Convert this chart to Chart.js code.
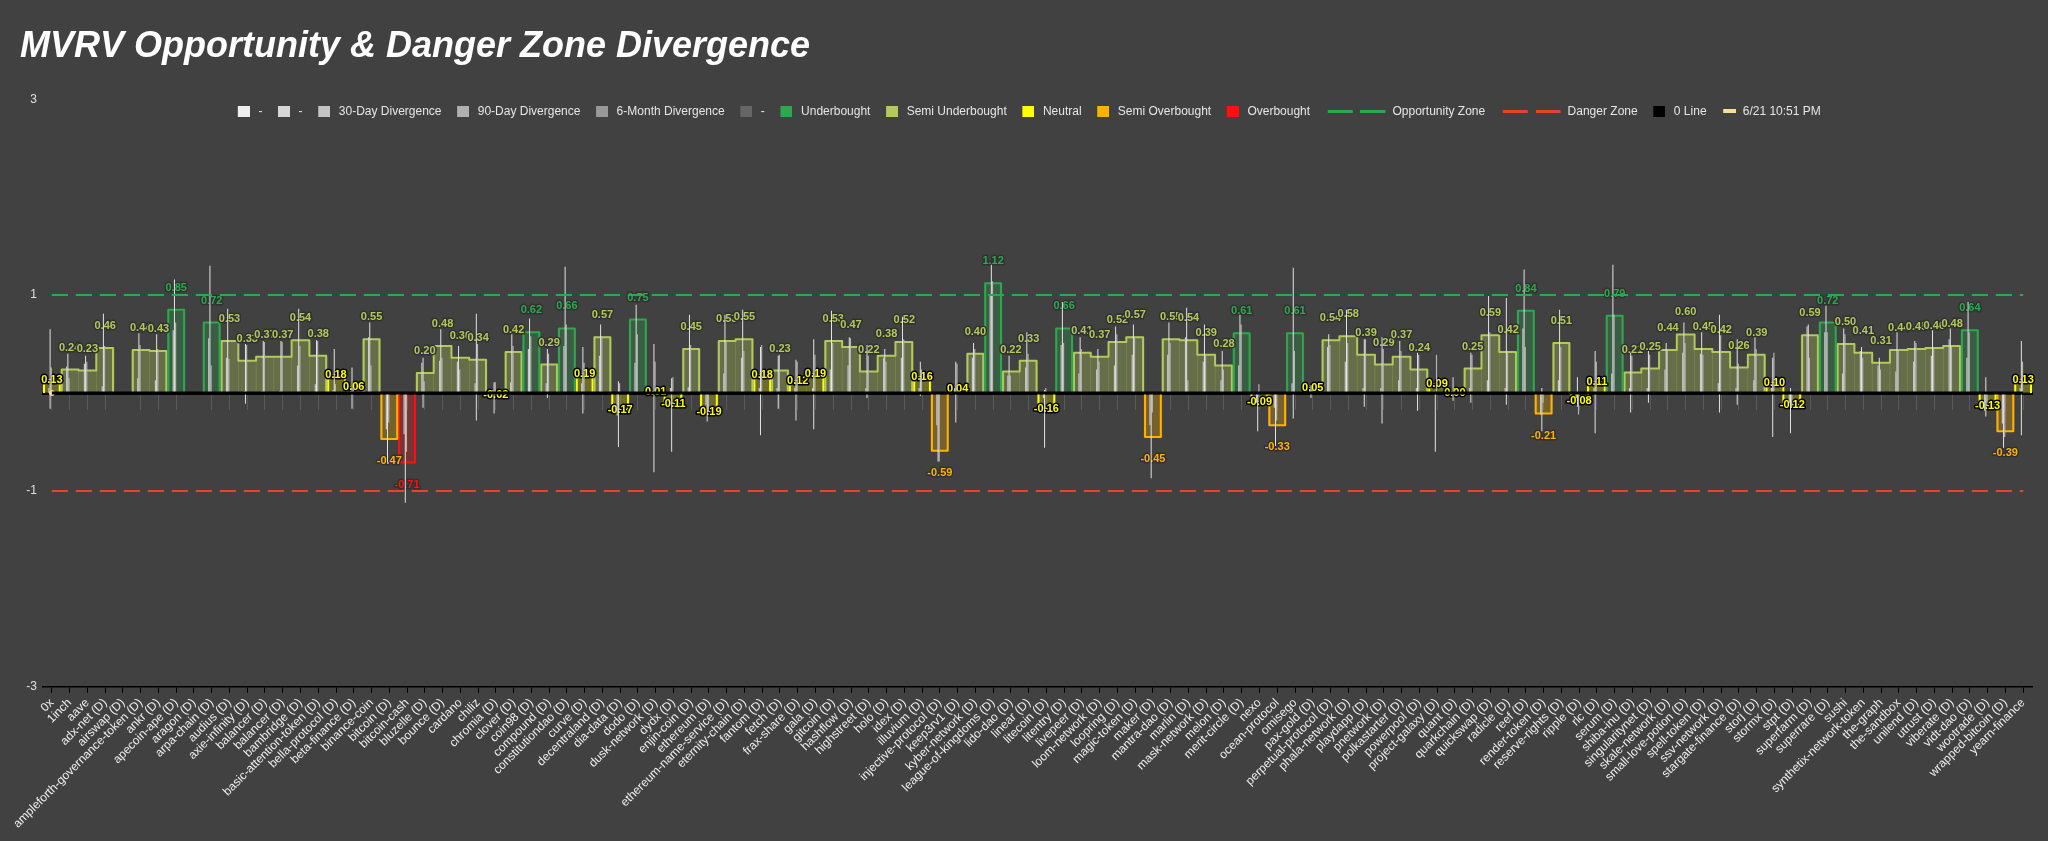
<!DOCTYPE html>
<html>
<head>
<meta charset="utf-8">
<title>MVRV Opportunity & Danger Zone Divergence</title>
<script src="https://cdn.jsdelivr.net/npm/chart.js@4.4.1/dist/chart.umd.min.js"></script>
<style>
    html, body { margin: 0; padding: 0; background: #414141; }
    #wrap { position: relative; width: 2048px; height: 841px; }
</style>
</head>
<body>
<div id="wrap"><canvas id="mvrvChart"></canvas></div>
<script>
const categories = [
    '0x', '1inch', 'aave', 'adx-net (D)', 'airswap (D)', 'ampleforth-governance-token (D)', 'ankr (D)', 'apecoin-ape (D)', 'aragon (D)', 'arpa-chain (D)',
    'audius (D)', 'axie-infinity (D)', 'balancer (D)', 'balancer (D)', 'bambridge (D)', 'basic-attention-token (D)', 'bella-protocol (D)', 'beta-finance (D)', 'binance-coin', 'bitcoin (D)',
    'bitcoin-cash', 'bluzelle (D)', 'bounce (D)', 'cardano', 'chiliz', 'chromia (D)', 'clover (D)', 'coin98 (D)', 'compound (D)', 'constitutiondao (D)',
    'curve (D)', 'decentraland (D)', 'dia-data (D)', 'dodo (D)', 'dusk-network (D)', 'dydx (D)', 'enjin-coin (D)', 'ethereum (D)', 'ethereum-name-service (D)', 'eternity-chain (D)',
    'fantom (D)', 'fetch (D)', 'frax-share (D)', 'gala (D)', 'gitcoin (D)', 'hashflow (D)', 'highstreet (D)', 'holo (D)', 'idex (D)', 'illuvium (D)',
    'injective-protocol (D)', 'keep3rv1 (D)', 'kyber-network (D)', 'league-of-kingdoms (D)', 'lido-dao (D)', 'linear (D)', 'litecoin (D)', 'litentry (D)', 'livepeer (D)', 'loom-network (D)',
    'loopring (D)', 'magic-token (D)', 'maker (D)', 'mantra-dao (D)', 'marlin (D)', 'mask-network (D)', 'melon (D)', 'merit-circle (D)', 'nexo', 'ocean-protocol',
    'omisego', 'pax-gold (D)', 'perpetual-protocol (D)', 'phala-network (D)', 'playdapp (D)', 'pnetwork (D)', 'polkastarter (D)', 'powerpool (D)', 'project-galaxy (D)', 'quant (D)',
    'quarkchain (D)', 'quickswap (D)', 'radicle (D)', 'reef (D)', 'render-token (D)', 'reserve-rights (D)', 'ripple (D)', 'rlc (D)', 'serum (D)', 'shiba-inu (D)',
    'singularitynet (D)', 'skale-network (D)', 'small-love-potion (D)', 'spell-token (D)', 'ssv-network (D)', 'stargate-finance (D)', 'storj (D)', 'stormx (D)', 'stpt (D)', 'superfarm (D)',
    'superrare (D)', 'sushi', 'synthetix-network-token', 'the-graph', 'the-sandbox', 'unilend (D)', 'utrust (D)', 'viberate (D)', 'vidt-dao (D)', 'wootrade (D)',
    'wrapped-bitcoin (D)', 'yearn-finance'
];

// current divergence (coloured zone bars)
const divergence = [
    0.13, 0.24, 0.23, 0.46, null, 0.44, 0.43, 0.85, null, 0.72,
    0.53, 0.33, 0.37, 0.37, 0.54, 0.38, 0.18, 0.06, 0.55, -0.47,
    -0.71, 0.204, 0.48, 0.36, 0.34, -0.02, 0.42, 0.62, 0.29, 0.66,
    0.19, 0.57, -0.17, 0.75, 0.01, -0.11, 0.45, -0.19, 0.53, 0.55,
    0.18, 0.23, 0.12, 0.19, 0.53, 0.47, 0.22, 0.38, 0.52, 0.16,
    -0.59, 0.04, 0.40, 1.12, 0.22, 0.33, -0.16, 0.66, 0.41, 0.37,
    0.52, 0.57, -0.45, 0.55, 0.54, 0.39, 0.28, 0.61, -0.09, -0.33,
    0.61, 0.05, 0.54, 0.58, 0.39, 0.29, 0.37, 0.24, 0.09, 0.00,
    0.25, 0.59, 0.42, 0.84, -0.21, 0.51, -0.08, 0.11, 0.79, 0.21,
    0.25, 0.44, 0.598, 0.45, 0.42, 0.26, 0.39, 0.10, -0.12, 0.59,
    0.72, 0.50, 0.41, 0.31, 0.44, 0.45, 0.46, 0.48, 0.64, -0.13,
    -0.39, 0.13
];

// white range bars (low / high)
const rangeLow = [
    -0.16, 0, 0, 0, null, 0, 0, 0, null, 0,
    0, -0.11, 0, 0, 0, 0, 0, -0.16, 0, -0.71,
    -1.12, -0.15, 0, 0, -0.28, -0.21, 0, 0, -0.05, 0,
    -0.21, 0, -0.55, 0, -0.81, -0.60, 0, -0.29, 0, 0,
    -0.43, -0.16, -0.28, -0.37, 0, 0, -0.05, 0, 0, -0.03,
    -0.70, -0.30, 0, 0, 0, 0, -0.56, 0, 0, 0,
    0, 0, -0.87, 0, 0, 0, 0, 0, -0.39, -0.54,
    -0.26, -0.05, 0, 0, -0.14, -0.31, 0, -0.18, -0.60, -0.08,
    -0.10, 0, -0.12, 0, -0.39, 0, -0.14, -0.41, 0, -0.20,
    -0.10, 0, 0, 0, -0.20, -0.12, 0, -0.45, -0.41, 0,
    0, 0, 0, 0, 0, 0, 0, 0, 0, -0.24,
    -0.56, -0.43
];
const rangeHigh = [
    0.65, 0.40, 0.38, 0.81, null, 0.61, 0.60, 1.16, null, 1.30,
    0.86, 0.50, 0.53, 0.53, 0.86, 0.54, 0.45, 0.26, 0.72, 0,
    0, 0.36, 0.65, 0.48, 0.81, 0.11, 0.60, 0.76, 0.45, 1.29,
    0.47, 0.70, 0.12, 0.90, 0.50, 0.15, 0.80, 0, 0.80, 0.85,
    0.47, 0.38, 0.34, 0.55, 0.84, 0.57, 0.49, 0.45, 0.78, 0.32,
    0, 0.32, 0.51, 1.31, 0.38, 0.62, 0.03, 0.93, 0.57, 0.45,
    0.68, 0.70, 0, 0.72, 0.87, 0.70, 0.43, 0.80, 0, 0,
    1.28, 0.08, 0.60, 0.85, 0.55, 0.57, 0.53, 0.41, 0, 0.16,
    0.41, 0.99, 0.97, 1.26, 0.05, 0.85, 0.16, 0.43, 1.31, 0.41,
    0.43, 0.51, 0.72, 0.62, 0.80, 0.55, 0.57, 0.36, 0.05, 0.70,
    0.89, 0.66, 0.47, 0.36, 0.62, 0.53, 0.64, 0.66, 0.93, 0.16,
    0, 0.53
];
const divergence30 = [
    0.05, 0.27, 0.30, 0.07, null, 0.15, 0.13, 0.64, null, 0.56,
    0.36, 0.02, 0.02, 0.02, 0.28, 0.09, 0.03, 0.02, 0.57, -0.37,
    -0.42, 0.31, 0.33, 0.32, 0.10, 0.03, 0.11, 0.45, 0.10, 0.48,
    0.10, 0.38, -0.23, 0.31, 0.02, 0.05, 0.06, -0.12, 0.20, 0.36,
    0.05, 0.05, 0.05, 0.05, 0.24, 0.28, 0.05, 0.36, 0.36, 0.05,
    -0.33, 0.05, 0.36, 1.00, 0.18, 0.26, -0.05, 0.49, 0.20, 0.24,
    0.28, 0.39, -0.33, 0.39, 0.57, 0.32, 0.13, 0.28, -0.10, -0.15,
    0.10, 0.02, 0.47, 0.32, 0.05, 0.05, 0.13, 0.05, 0.02, 0.02,
    0.05, 0.13, 0.05, 0.66, -0.22, 0.13, -0.05, 0.05, 0.20, 0.05,
    0.05, 0.24, 0.41, 0.40, 0.10, 0.05, 0.13, 0.05, -0.10, 0.68,
    0.62, 0.20, 0.43, 0.28, 0.22, 0.32, 0.38, 0.55, 0.36, -0.18,
    -0.31, 0.05
];
const divergence90 = [
    0.26, 0.15, 0.32, 0.48, null, 0.49, 0.45, 0.72, null, 0.28,
    0.35, 0.49, 0.52, 0.52, 0.48, 0.53, 0.09, 0.05, 0.28, -0.30,
    -0.60, 0.12, 0.36, 0.24, 0.50, 0.11, 0.48, 0.58, 0.40, 0.70,
    0.31, 0.58, 0.10, 0.60, 0.32, 0.16, 0.49, -0.19, 0.53, 0.43,
    0.49, 0.39, 0.32, 0.39, 0.51, 0.56, 0.38, 0.32, 0.55, 0.24,
    -0.70, 0.30, 0.45, 1.14, 0.18, 0.40, 0.05, 0.51, 0.45, 0.32,
    0.60, 0.57, -0.20, 0.51, 0.13, 0.39, 0.24, 0.70, 0.09, -0.28,
    0.43, 0.04, 0.49, 0.51, 0.55, 0.45, 0.43, 0.39, 0.39, 0.05,
    0.39, 0.62, 0.41, 0.47, -0.10, 0.47, -0.22, 0.32, 0.80, 0.38,
    0.39, 0.45, 0.51, 0.39, 0.59, 0.30, 0.45, 0.41, -0.14, 0.36,
    0.62, 0.60, 0.36, 0.24, 0.43, 0.51, 0.45, 0.47, 0.62, -0.10,
    -0.45, 0.32
];

const yTickValues = [-3, -1, 1, 3];
const opportunityLevel = 1;
const dangerLevel = -1;
const zeroLevel = 0;
const snapshotLabel = '6/21 10:51 PM';

const zones = [
    { key: 'under', label: 'Underbought', color: '#2ea84f', fill: 'rgba(46,168,79,0.28)' },
    { key: 'semiUnder', label: 'Semi Underbought', color: '#b3c95b', fill: 'rgba(179,201,91,0.32)' },
    { key: 'neutral', label: 'Neutral', color: '#ffff00', fill: 'rgba(200,200,0,0.32)' },
    { key: 'semiOver', label: 'Semi Overbought', color: '#ffb300', fill: 'rgba(255,179,0,0.28)' },
    { key: 'over', label: 'Overbought', color: '#ff1010', fill: 'rgba(255,16,16,0.3)' }
];

function zoneOf(v) {
    if (v > 0.6) return 'under';
    if (v >= 0.2) return 'semiUnder';
    if (v >= -0.2) return 'neutral';
    if (v > -0.6) return 'semiOver';
    return 'over';
}

const font = '"Liberation Sans", Arial, Helvetica, sans-serif';
Chart.defaults.font.family = font;
Chart.defaults.color = '#e6e6e6';

// small legend icons
function boxIcon(color) {
    const c = document.createElement('canvas');
    c.width = 16; c.height = 11;
    const g = c.getContext('2d');
    g.fillStyle = color;
    g.fillRect(4, 0, 12, 11);
    return c;
}
function lineIcon(color, lead) {
    // lead: first line of a pair, pushed right a little
    const c = document.createElement('canvas');
    c.width = lead ? 48 : 31; c.height = 3;
    const g = c.getContext('2d');
    g.fillStyle = color;
    g.fillRect(lead ? 22 : 0, 0, 25, 3);
    return c;
}
function barIcon(color) {
    const c = document.createElement('canvas');
    c.width = 20; c.height = 4;
    const g = c.getContext('2d');
    g.fillStyle = color;
    g.fillRect(7, 0, 13, 4);
    return c;
}

const first = categories[0];
const last = categories[categories.length - 1];

const datasets = [];
const legendIcons = [];

datasets.push({
    label: '-', xAxisID: 'xThin', order: 2.1,
    data: rangeLow.map((lo, i) => lo === null ? null : [lo, rangeHigh[i]]),
    backgroundColor: '#ececec', categoryPercentage: 0.4, barPercentage: 0.8
});
legendIcons.push(boxIcon('#eeeeee'));

datasets.push({ label: '-', data: [], backgroundColor: '#d6d6d6', grouped: false, order: 2 });
legendIcons.push(boxIcon('#d6d6d6'));

datasets.push({
    label: '30-Day Divergence', xAxisID: 'xThin', order: 2, data: divergence30,
    backgroundColor: '#cacaca', categoryPercentage: 0.4, barPercentage: 1
});
legendIcons.push(boxIcon('#c4c4c4'));

datasets.push({
    label: '90-Day Divergence', xAxisID: 'xThin', order: 2.2, data: divergence90,
    backgroundColor: '#b4b4b4', categoryPercentage: 0.4, barPercentage: 1
});
legendIcons.push(boxIcon('#b0b0b0'));

datasets.push({ label: '6-Month Divergence', data: [], backgroundColor: '#999999', grouped: false, order: 2 });
legendIcons.push(boxIcon('#999999'));

datasets.push({ label: '-', data: [], backgroundColor: '#666666', grouped: false, order: 2 });
legendIcons.push(boxIcon('#666666'));

zones.forEach(z => {
    datasets.push({
        label: z.label,
        zone: z.key,
        data: divergence.map(v => (v !== null && zoneOf(v) === z.key) ? v : null),
        backgroundColor: z.fill,
        borderWidth: 0,
        grouped: false,
        categoryPercentage: 1,
        barPercentage: 1,
        order: 3
    });
    legendIcons.push(boxIcon(z.color));
});

const zoneLine = (label, level, color) => ({
    type: 'line', label: label, order: 1,
    data: [{ x: first, y: level }, { x: last, y: level }],
    borderColor: color, backgroundColor: color, borderWidth: 2,
    borderDash: [16, 8], pointRadius: 0, fill: false
});
const blankLabel = '\u00a0\u00a0\u00a0';
datasets.push(zoneLine(blankLabel, opportunityLevel, '#2ea84f'));
legendIcons.push(lineIcon('#2ea84f', true));
datasets.push(zoneLine('Opportunity Zone', opportunityLevel, '#2ea84f'));
legendIcons.push(lineIcon('#2ea84f'));
datasets.push(zoneLine(blankLabel, dangerLevel, '#e8412f'));
legendIcons.push(lineIcon('#e8412f', true));
datasets.push(zoneLine('Danger Zone', dangerLevel, '#e8412f'));
legendIcons.push(lineIcon('#e8412f'));

datasets.push({
    type: 'line', label: '0 Line', order: 0,
    data: [{ x: first, y: zeroLevel }, { x: last, y: zeroLevel }],
    borderColor: '#000', backgroundColor: '#000', borderWidth: 3, pointRadius: 0
});
legendIcons.push(boxIcon('#000000'));

datasets.push({
    type: 'line', label: snapshotLabel, order: 0,
    data: [{ x: first, y: zeroLevel }],
    borderColor: '#f6df9e', backgroundColor: '#f6df9e', pointRadius: 2.5, showLine: false
});
legendIcons.push(barIcon('#f6df9e'));

const zoneIndex = {};
datasets.forEach((ds, i) => { if (ds.zone) zoneIndex[ds.zone] = i; });
const lastZoneDrawn = Math.min(...Object.values(zoneIndex));

function drawValueLabels(chart) {
    const ctx = chart.ctx;
    ctx.save();
    ctx.font = 'bold 11px ' + font;
    ctx.textAlign = 'center';
    ctx.textBaseline = 'middle';
    ctx.lineJoin = 'round';
    divergence.forEach((v, i) => {
        if (v === null) return;
        const key = zoneOf(v);
        const zone = zones.find(z => z.key === key);
        const bar = chart.getDatasetMeta(zoneIndex[key]).data[i];
        if (!bar) return;
        let y = bar.y;
        if (key !== 'neutral') y += v >= 0 ? -22 : 22;
        const text = v.toFixed(2);
        ctx.lineWidth = 3;
        ctx.strokeStyle = key === 'neutral' ? '#000' : 'rgba(48,48,48,0.95)';
        ctx.strokeText(text, bar.x, y);
        ctx.fillStyle = zone.color;
        ctx.fillText(text, bar.x, y);
    });
    ctx.restore();
}

// stepped outline round each run of neighbouring bars of one zone, then the value labels
const zoneOutline = {
    id: 'zoneOutline',
    afterLayout(chart) {
        // legend row sits a little inside the top of the plot, as in the original
        const lg = chart.legend;
        if (lg) { lg.top += 28; lg.bottom += 28; }
    },
    afterDatasetDraw(chart, args) {
        const ds = chart.data.datasets[args.index];
        if (!ds.zone) return;
        const zone = zones.find(z => z.key === ds.zone);
        const ctx = chart.ctx;
        ctx.save();
        ctx.strokeStyle = zone.color;
        ctx.lineWidth = 2;
        ctx.lineJoin = 'round';
        let run = [];
        const flush = () => {
            if (!run.length) return;
            const p = run.map(b => b.getProps(['x', 'y', 'base', 'width'], true));
            const l0 = p[0].x - p[0].width / 2 + 1;
            ctx.beginPath();
            ctx.moveTo(l0, p[0].base);
            ctx.lineTo(l0, p[0].y);
            p.forEach((b, k) => {
                const left = k === 0 ? l0 : b.x - b.width / 2;
                const right = b.x + b.width / 2 - (k === p.length - 1 ? 1 : 0);
                if (k > 0) ctx.lineTo(left, b.y);
                ctx.lineTo(right, b.y);
            });
            const e = p[p.length - 1];
            ctx.lineTo(e.x + e.width / 2 - 1, e.base);
            ctx.stroke();
            run = [];
        };
        args.meta.data.forEach((bar, i) => {
            if (ds.data[i] === null || ds.data[i] === undefined) { flush(); return; }
            run.push(bar);
        });
        flush();
        ctx.restore();
        if (args.index === lastZoneDrawn) drawValueLabels(chart);
    }
};

new Chart(document.getElementById('mvrvChart'), {
    type: 'bar',
    data: { labels: categories, datasets: datasets },
    options: {
        responsive: true,
        maintainAspectRatio: false,
        animation: false,
        devicePixelRatio: 1,
        layout: { padding: { left: 20, right: 16, top: 13, bottom: 7 } },
        plugins: {
            title: {
                display: true,
                text: 'MVRV Opportunity & Danger Zone Divergence',
                align: 'start',
                color: '#ffffff',
                font: { size: 36, weight: 'bold', style: 'italic' },
                padding: { top: 12, bottom: 0 }
            },
            legend: {
                position: 'top',
                labels: {
                    usePointStyle: true,
                    pointStyleWidth: 21.2,
                    padding: 9,
                    color: '#e6e6e6',
                    font: { size: 12 },
                    generateLabels(chart) {
                        return chart.data.datasets.map((ds, i) => ({
                            text: ds.label,
                            pointStyle: legendIcons[i],
                            fillStyle: 'transparent',
                            strokeStyle: 'transparent',
                            lineWidth: 0,
                            fontColor: '#e6e6e6',
                            hidden: !chart.isDatasetVisible(i),
                            datasetIndex: i
                        }));
                    }
                }
            },
            tooltip: { enabled: false }
        },
        scales: {
            x: {
                type: 'category',
                offset: true,
                grid: { display: true, drawOnChartArea: false, offset: false, color: '#000', tickLength: 6 },
                border: { color: '#000', width: 1.5 },
                ticks: { color: '#f0f0f0', autoSkip: false, minRotation: 45, maxRotation: 45, font: { size: 12 } }
            },
            xThin: {
                type: 'category',
                axis: 'x',
                offset: true,
                position: { y: 0 },
                z: 1,
                grid: {
                    drawOnChartArea: false,
                    offset: false,
                    tickLength: 15,
                    color: c => divergence[c.index] === null ? 'rgba(0,0,0,0)' : '#5a5a5a'
                },
                border: { color: '#000', width: 3 },
                ticks: { display: false }
            },
            y: {
                min: -3,
                max: 3,
                afterBuildTicks: s => { s.ticks = yTickValues.map(v => ({ value: v })); },
                afterFit: s => { s.width = 23; },
                ticks: { color: '#e0e0e0', padding: 6, font: { size: 12 } },
                grid: { display: false, drawTicks: false },
                border: { display: false }
            }
        }
    },
    plugins: [zoneOutline]
});
</script>
</body>
</html>
